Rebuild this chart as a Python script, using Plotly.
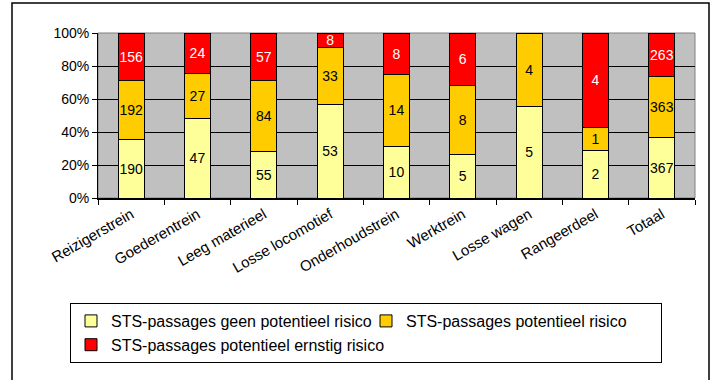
import plotly.graph_objects as go

categories = ["Reizigerstrein", "Goederentrein", "Leeg materieel", "Losse locomotief",
              "Onderhoudstrein", "Werktrein", "Losse wagen", "Rangeerdeel", "Totaal"]
geen_risico = [190, 47, 55, 53, 10, 5, 5, 2, 367]
potentieel_risico = [192, 27, 84, 33, 14, 8, 4, 1, 363]
ernstig_risico = [156, 24, 57, 8, 8, 6, 0, 4, 263]

series = [
    ("STS-passages geen potentieel risico", geen_risico, "#FFFF99", "black"),
    ("STS-passages potentieel risico", potentieel_risico, "#FFCC00", "black"),
    ("STS-passages potentieel ernstig risico", ernstig_risico, "#FF0000", "white"),
]

FONT = "Arial, Liberation Sans, sans-serif"
W, H = 716, 380
L, R, T, B = 98, 21, 33, 182
PW, PH = W - L - R, H - T - B

def px_x(px):
    return (px - L) / PW

def px_y(py):
    return (H - B - py) / PH

fig = go.Figure()
for name, vals, color, tcolor in series:
    fig.add_trace(go.Bar(
        name=name, x=categories, y=vals,
        marker=dict(color=color, line=dict(color="black", width=1)),
        text=[str(v) if v else "" for v in vals],
        textposition="inside", insidetextanchor="middle",
        textangle=0, constraintext="none",
        textfont=dict(family=FONT, size=14, color=tcolor),
        hoverinfo="skip",
    ))

fig.update_layout(
    width=W, height=H,
    barmode="stack", barnorm="percent", bargap=0.61,
    margin=dict(l=L, r=R, t=T, b=B, pad=0, autoexpand=False),
    paper_bgcolor="white", plot_bgcolor="#C0C0C0",
    font=dict(family=FONT, size=14, color="black"),
    showlegend=True,
    legend=dict(
        orientation="h", xref="paper", yref="paper",
        x=px_x(70), y=px_y(303), xanchor="left", yanchor="top",
        entrywidth=250, entrywidthmode="pixels",
        bgcolor="white", bordercolor="black", borderwidth=1,
        font=dict(family=FONT, size=16, color="black"),
        traceorder="normal",
    ),
    xaxis=dict(
        tickangle=-30, tickson="boundaries", ticks="outside", ticklen=5,
        tickcolor="black", showline=True, linecolor="black", linewidth=2,
        tickfont=dict(family=FONT, size=15), showgrid=False,
    ),
    yaxis=dict(
        range=[0, 100], dtick=20, ticksuffix="%", ticks="outside", ticklen=5,
        tickcolor="black", showline=True, linecolor="black", linewidth=1,
        showgrid=True, gridcolor="black", gridwidth=1,
        tickfont=dict(family=FONT, size=14), zeroline=False,
    ),
    shapes=[
        dict(type="rect", xref="paper", yref="paper", x0=0, x1=1, y0=0, y1=1,
             line=dict(color="#808080", width=1), layer="below"),
        dict(type="rect", xref="paper", yref="paper",
             x0=px_x(12), x1=px_x(709), y0=px_y(383), y1=px_y(3),
             line=dict(color="black", width=1.5), fillcolor="rgba(0,0,0,0)"),
    ],
)

fig.write_html("out.html", config={"displayModeBar": False},
               post_script="document.body.style.margin='0';")
